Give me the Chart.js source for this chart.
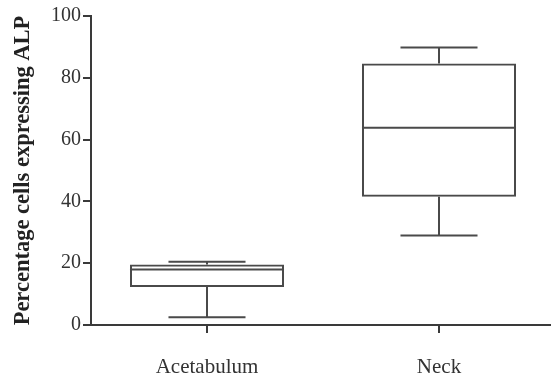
<!DOCTYPE html>
<html>
<head>
<meta charset="utf-8">
<script src="https://cdn.jsdelivr.net/npm/chart.js@4"></script>
<style>
html,body{margin:0;padding:0;background:#fff;overflow:hidden;}
#wrap{width:551px;height:377px;overflow:hidden;}
</style>
</head>
<body>
<div id="wrap"><canvas id="c" width="555" height="377"></canvas></div>
<script>
const categories = ['Acetabulum', 'Neck'];
const minVals    = [2.5, 29.0];
const q1Vals     = [12.3, 41.5];
const medianVals = [18.0, 63.8];
const q3Vals     = [19.6, 84.6];
const maxVals    = [20.5, 89.8];
const yTicks     = [0, 20, 40, 60, 80, 100];

const lineColor = '#4a4a4a';
const axisColor = '#3a3a3a';
const serif = '"Liberation Serif", "DejaVu Serif", serif';

const boxPlugin = {
  id: 'boxWhiskers',
  afterDatasetsDraw(chart) {
    const ctx = chart.ctx;
    const xs = chart.scales.x, ys = chart.scales.y;
    const meta = chart.getDatasetMeta(0);
    ctx.save();
    ctx.strokeStyle = lineColor;
    ctx.lineWidth = 2;
    ctx.lineCap = 'butt';
    categories.forEach((c, i) => {
      const x = xs.getPixelForValue(i);
      const hw = meta.data[i].width / 2;
      const cw = hw / 2;
      const yMed = ys.getPixelForValue(medianVals[i]);
      const yQ1 = ys.getPixelForValue(q1Vals[i]);
      const yQ3 = ys.getPixelForValue(q3Vals[i]);
      const yMin = ys.getPixelForValue(minVals[i]);
      const yMax = ys.getPixelForValue(maxVals[i]);
      ctx.beginPath();
      ctx.moveTo(x - hw, yMed); ctx.lineTo(x + hw, yMed);
      ctx.moveTo(x, yQ3); ctx.lineTo(x, yMax);
      ctx.moveTo(x - cw, yMax); ctx.lineTo(x + cw, yMax);
      ctx.moveTo(x, yQ1); ctx.lineTo(x, yMin);
      ctx.moveTo(x - cw, yMin); ctx.lineTo(x + cw, yMin);
      ctx.stroke();
    });
    ctx.restore();
  }
};

new Chart(document.getElementById('c'), {
  type: 'bar',
  data: {
    labels: categories,
    datasets: [{
      data: categories.map((c, i) => [q1Vals[i], q3Vals[i]]),
      backgroundColor: 'rgba(0,0,0,0)',
      borderColor: lineColor,
      borderWidth: 2,
      borderSkipped: false,
      categoryPercentage: 1.0,
      barPercentage: 0.664
    }]
  },
  options: {
    responsive: false,
    animation: false,
    devicePixelRatio: 1,
    layout: { padding: { top: 16, right: 0, left: 10, bottom: 0 } },
    plugins: { legend: { display: false }, tooltip: { enabled: false } },
    scales: {
      x: {
        offset: true,
        grid: { drawOnChartArea: false, drawTicks: true, tickLength: 8, color: axisColor, lineWidth: 2, offset: false },
        border: { display: true, color: axisColor, width: 2 },
        ticks: { color: '#333', font: { family: serif, size: 21 }, padding: 22 },
        afterFit(s) { s.height = 52; }
      },
      y: {
        min: 0, max: 100,
        afterBuildTicks(s) { s.ticks = yTicks.map(v => ({ value: v })); },
        grid: { drawOnChartArea: false, drawTicks: true, tickLength: 8, color: axisColor, lineWidth: 2 },
        border: { display: true, color: axisColor, width: 2 },
        ticks: { color: '#333', font: { family: serif, size: 20 }, padding: 2 },
        title: { display: true, text: 'Percentage cells expressing ALP', color: '#222', font: { family: serif, size: 22.5, weight: 'bold' }, padding: { top: 0, bottom: 5 } },
        afterFit(s) { s.width = 81; }
      }
    }
  },
  plugins: [boxPlugin]
});
</script>
</body>
</html>
